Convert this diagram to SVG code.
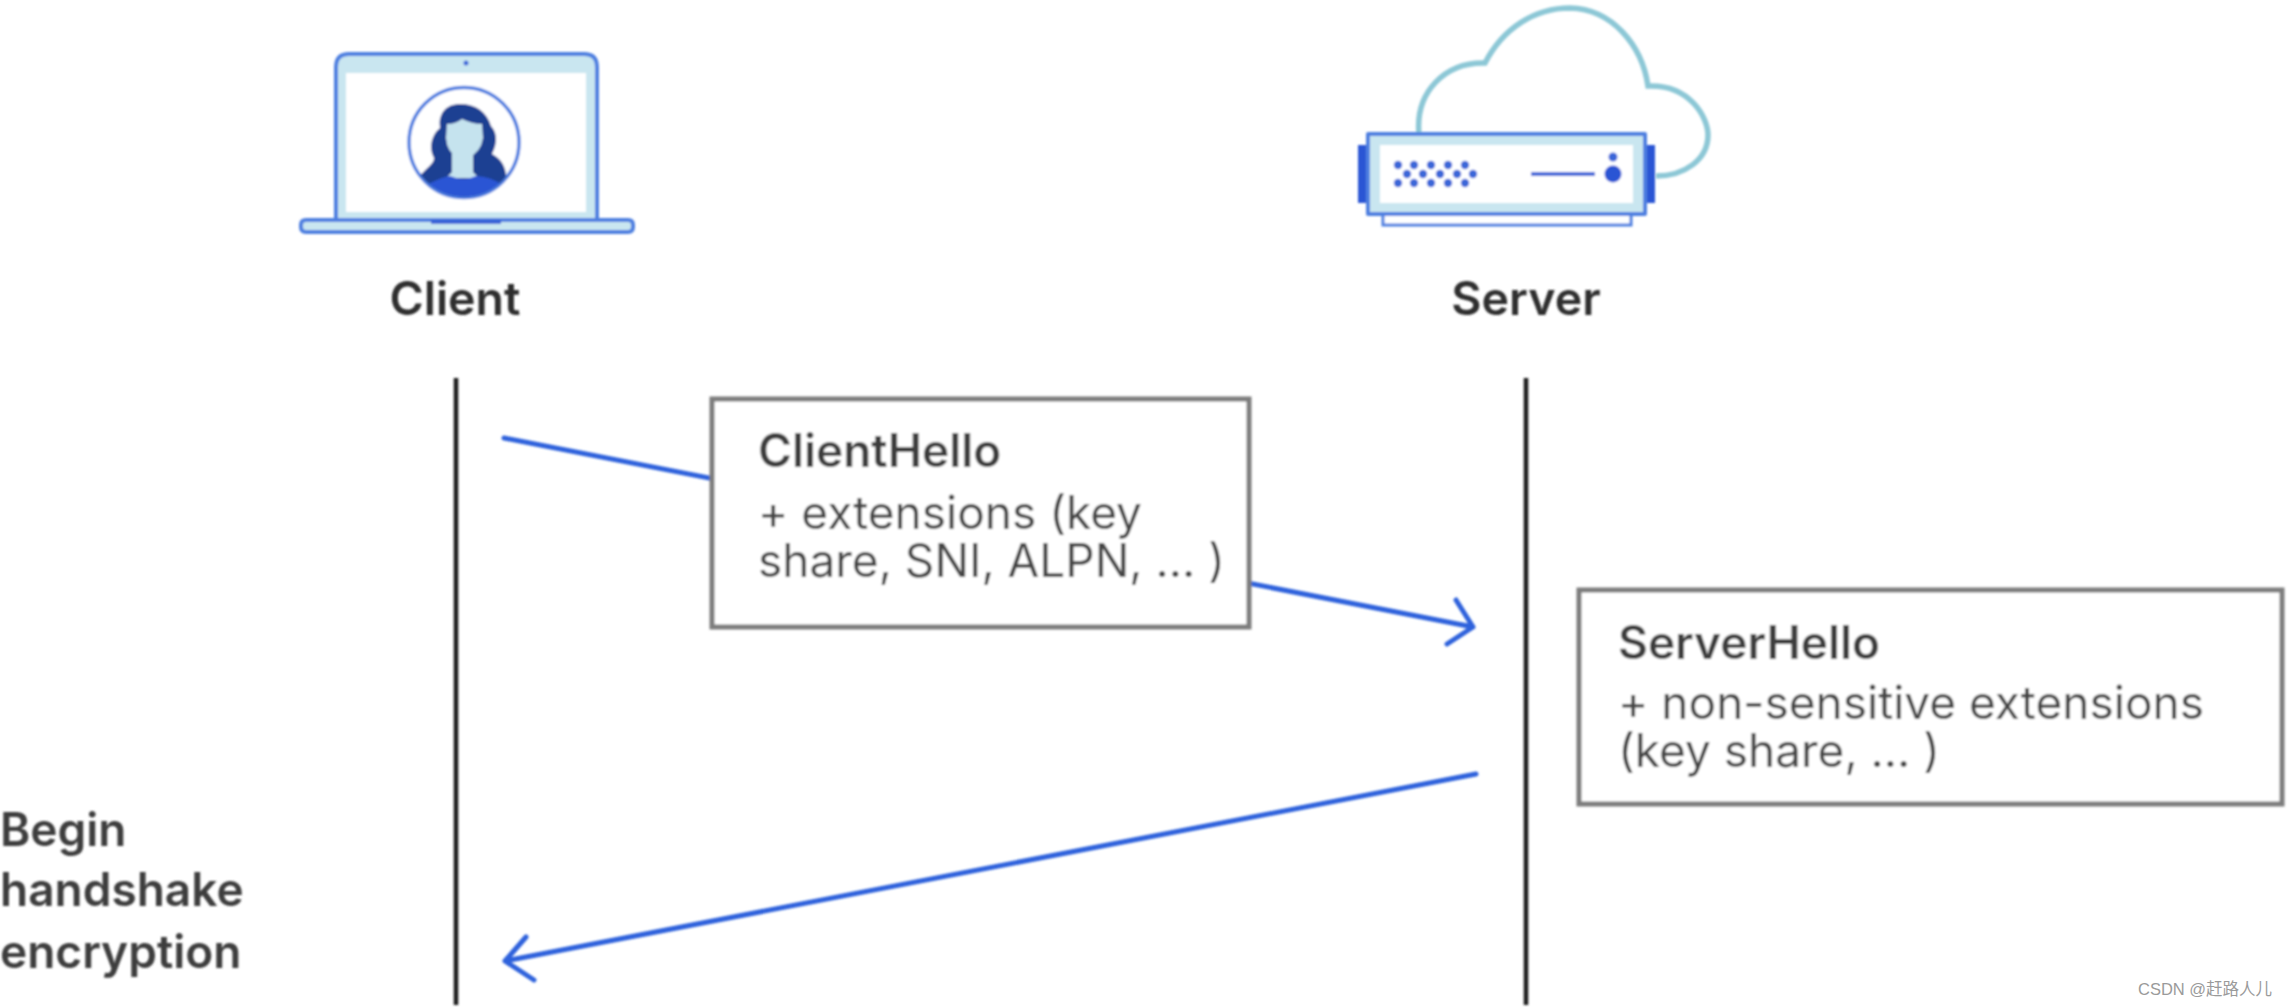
<svg xmlns="http://www.w3.org/2000/svg" width="2290" height="1008" viewBox="0 0 2290 1008">
<style>
.ic{stroke:#4d7fe0;stroke-width:4;fill:#c9e6f0;stroke-linejoin:round}
.white{fill:#fff;stroke:none}
.dot{fill:#3a66d8}
.solid{fill:#2b55d4}
.t{font-family:Inter,"Liberation Sans",sans-serif;fill:#3c3c3c}
.b{font-weight:600}
.lab{font-size:46.500px;fill:#2e2e2e}
.h{font-size:46px}
.r{font-size:46px;font-weight:400;fill:#454545}
.side{font-size:46px;font-weight:600;fill:#3c3c3c}
.life{stroke:#1a1a1a;stroke-width:4.500;fill:none}
.msg{stroke:#2f62dc;stroke-width:5;fill:none;stroke-linecap:round;stroke-linejoin:round}
.box{fill:#fff;stroke:#7d7d7d;stroke-width:5}
</style>
<defs>
<filter id="soft" x="-5%" y="-5%" width="110%" height="110%"><feGaussianBlur stdDeviation="1.100"/></filter>
<clipPath id="av"><circle cx="464" cy="142.500" r="54"/></clipPath>
</defs>
<rect width="2290" height="1008" fill="#fff"/>
<g filter="url(#soft)">
<g id="connectors">
<path class="life" d="M456 378V1005"/>
<path class="life" d="M1526 378V1005"/>
<path class="msg" d="M504 438L1473 627M1456 600L1473 627L1447 644"/>
<path class="msg" d="M1476 774L505 961M526 937L505 961L534 980"/>
</g>
<g id="client">
<path class="ic" d="M336 220V67Q336 54 349 54H584Q597 54 597 67V220Z"/>
<rect class="white" x="346" y="73" width="240" height="139"/>
<circle class="dot" cx="466" cy="63" r="2.500"/>
<path class="ic" d="M306 220H628Q633 220 633 225V227Q633 232 628 232H306Q301 232 301 227V225Q301 220 306 220Z"/>
<rect class="solid" x="431" y="220" width="70" height="4" opacity=".85"/>
<circle cx="464" cy="142.500" r="55" fill="#fff" stroke="#4d7fe0" stroke-width="3.500"/>
<g clip-path="url(#av)">
<path fill="#1c3f92" d="M460 104C444 104 438 116 440 128C432 134 428 148 434 158C434 164 426 168 418 178L424 200H500L506 176C506 166 500 158 492 154C498 142 497 132 491 126C487 112 476 104 460 104Z"/>
<path fill="#c5e3ee" d="M447 124Q456 124 462 119Q472 124 482 124L483 138Q481 152 468 158Q463 160 458 158Q447 152 446 138Z"/>
<path fill="#c5e3ee" d="M452 152H473V172L479 178H446L452 172Z"/>
<path class="solid" d="M424 186Q444 176 450 176Q464 182 476 176Q490 176 504 186V200H424Z"/>
</g>
</g>
<g id="server">
<path d="M1419 134C1415 92 1445 62 1485 63C1503 28 1535 8 1570 8C1612 9 1642 45 1648 86C1690 84 1708 118 1708 135C1708 160 1684 176 1656 176" fill="none" stroke="#8cc7d6" stroke-width="5.500"/>
<rect class="solid" x="1358" y="145" width="11" height="58"/>
<rect class="solid" x="1645" y="145" width="10" height="58"/>
<rect x="1383" y="214" width="248" height="11" fill="#fff" stroke="#4d7fe0" stroke-width="3"/>
<rect class="ic" x="1368" y="134" width="277" height="80"/>
<rect class="white" x="1380" y="145" width="253" height="58"/>
<g class="dot">
<circle cx="1398" cy="165" r="4.200"/><circle cx="1414" cy="165" r="4.200"/><circle cx="1431" cy="165" r="4.200"/><circle cx="1448" cy="165" r="4.200"/><circle cx="1465" cy="165" r="4.200"/>
<circle cx="1407" cy="174" r="4.200"/><circle cx="1423" cy="174" r="4.200"/><circle cx="1440" cy="174" r="4.200"/><circle cx="1457" cy="174" r="4.200"/><circle cx="1473" cy="174" r="4.200"/>
<circle cx="1398" cy="183" r="4.200"/><circle cx="1414" cy="183" r="4.200"/><circle cx="1431" cy="183" r="4.200"/><circle cx="1448" cy="183" r="4.200"/><circle cx="1465" cy="183" r="4.200"/>
</g>
<rect class="dot" x="1531" y="172" width="64" height="4"/>
<circle class="solid" cx="1613" cy="174" r="8.500"/>
<circle class="dot" cx="1613" cy="157" r="4.500"/>
</g>
<g id="label-client"><text class="t b lab" x="455" y="315" text-anchor="middle">Client</text></g>
<g id="label-server"><text class="t b lab" x="1526" y="315" text-anchor="middle">Server</text></g>
<g id="client-hello">
<rect class="box" x="712" y="399" width="537" height="228"/>
<text class="t b h" x="758" y="467">ClientHello</text>
<text class="t r" x="758" y="529">+ extensions (key</text>
<text class="t r" x="758" y="577">share, SNI, ALPN, ... )</text>
</g>
<g id="server-hello">
<rect class="box" x="1579" y="590" width="703" height="214"/>
<text class="t b h" x="1618" y="659">ServerHello</text>
<text class="t r" x="1618" y="719">+ non-sensitive extensions</text>
<text class="t r" x="1618" y="767">(key share, ... )</text>
</g>
<g id="begin-handshake">
<text class="t side" x="0" y="846">Begin</text>
<text class="t side" x="0" y="906">handshake</text>
<text class="t side" x="0" y="968">encryption</text>
</g>
</g>
<text x="2138" y="995" font-size="16.500" fill="#9a9a9a" font-family="'Liberation Sans','Noto Sans CJK SC',sans-serif">CSDN @赶路人儿</text>
</svg>
